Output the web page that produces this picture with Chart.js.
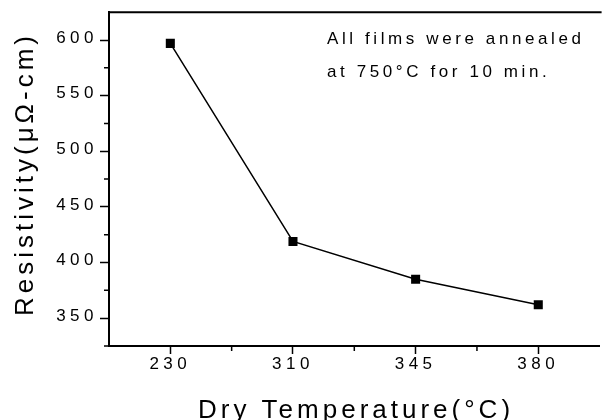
<!DOCTYPE html>
<html lang="en">
<head>
  <meta charset="UTF-8" />
  <title>Resistivity vs Dry Temperature</title>
  <script src="https://cdn.jsdelivr.net/npm/chart.js"></script>
  <style>
    html, body { margin: 0; padding: 0; background: #fff; overflow: hidden; }
    canvas { display: block; }
  </style>
</head>
<body>
  <canvas id="chart" width="606" height="420"></canvas>

  <script>
    // data
    const xLabels = ["230", "310", "345", "380"];
    const resistivity = [597, 419, 385, 362];
    const yTicks = [350, 400, 450, 500, 550, 600];
    const yMinor = [325, 375, 425, 475, 525, 575];
    const xMinor = [0.5, 1.5, 2.5];
    const xTitle = "Dry Temperature(°C)";
    const yTitle = "Resistivity(μΩ-cm)";
    const note = ["All films were annealed", "at 750°C for 10 min."];

    const FONT = "'Liberation Sans', Arial, sans-serif";

    // spaced-out lettering, extra ticks, frame and text
    const decor = {
      id: "decor",
      beforeDraw(chart) {
        chart.ctx.letterSpacing = "4.5px";
      },
      afterDraw(chart) {
        const ctx = chart.ctx;
        const a = chart.chartArea;
        const xs = chart.scales.x, ys = chart.scales.y;
        ctx.save();
        ctx.strokeStyle = "#000";
        ctx.fillStyle = "#000";

        // top frame line
        ctx.lineWidth = 2;
        ctx.beginPath();
        ctx.moveTo(a.left - 1, a.top);
        ctx.lineTo(a.right + 2, a.top);
        ctx.stroke();

        // minor ticks
        ctx.lineWidth = 1.5;
        ctx.beginPath();
        yMinor.forEach(v => {
          const y = ys.getPixelForValue(v);
          ctx.moveTo(a.left - 5, y);
          ctx.lineTo(a.left, y);
        });
        xMinor.forEach(v => {
          const x = xs.getPixelForValue(v);
          ctx.moveTo(x, a.bottom);
          ctx.lineTo(x, a.bottom + 5);
        });
        ctx.stroke();

        // annotation
        ctx.letterSpacing = "3.6px";
        ctx.font = "17px " + FONT;
        ctx.textAlign = "left";
        ctx.textBaseline = "alphabetic";
        ctx.fillText(note[0], 327, 43.5);
        ctx.fillText(note[1], 327, 77);

        // axis titles
        ctx.letterSpacing = "4px";
        ctx.font = "26px " + FONT;
        ctx.textAlign = "center";
        ctx.fillText(xTitle, 356, 418);
        ctx.translate(33, 174);
        ctx.rotate(-Math.PI / 2);
        ctx.fillText(yTitle, 0, 0);
        ctx.restore();
      }
    };

    new Chart(document.getElementById("chart"), {
      type: "line",
      data: {
        labels: xLabels,
        datasets: [{
          data: resistivity,
          borderColor: "#000",
          borderWidth: 1.5,
          backgroundColor: "#000",
          pointStyle: "rect",
          pointRadius: 6.4,
          pointBorderWidth: 0,
          tension: 0
        }]
      },
      options: {
        responsive: false,
        animation: false,
        devicePixelRatio: 1,
        layout: { padding: { top: 12, left: 0, right: 1, bottom: 0 } },
        plugins: {
          legend: { display: false },
          tooltip: { enabled: false }
        },
        scales: {
          x: {
            type: "category",
            offset: true,
            grid: {
              offset: false,
              drawOnChartArea: false,
              tickLength: 8,
              tickColor: "#000",
              tickWidth: 1.5
            },
            border: { color: "#000", width: 2 },
            ticks: {
              color: "#000",
              font: { family: FONT, size: 17 },
              padding: 0,
              maxRotation: 0
            },
            afterFit: s => { s.height = 74; }
          },
          y: {
            min: 325,
            max: 625,
            afterBuildTicks: s => { s.ticks = yTicks.map(v => ({ value: v })); },
            grid: {
              drawOnChartArea: false,
              tickLength: 9,
              tickColor: "#000",
              tickWidth: 1.5
            },
            border: { color: "#000", width: 2 },
            ticks: {
              color: "#000",
              font: { family: FONT, size: 17 },
              padding: 2,
              labelOffset: -2
            },
            afterFit: s => { s.width = 109; }
          }
        }
      },
      plugins: [decor]
    });
  </script>
</body>
</html>
